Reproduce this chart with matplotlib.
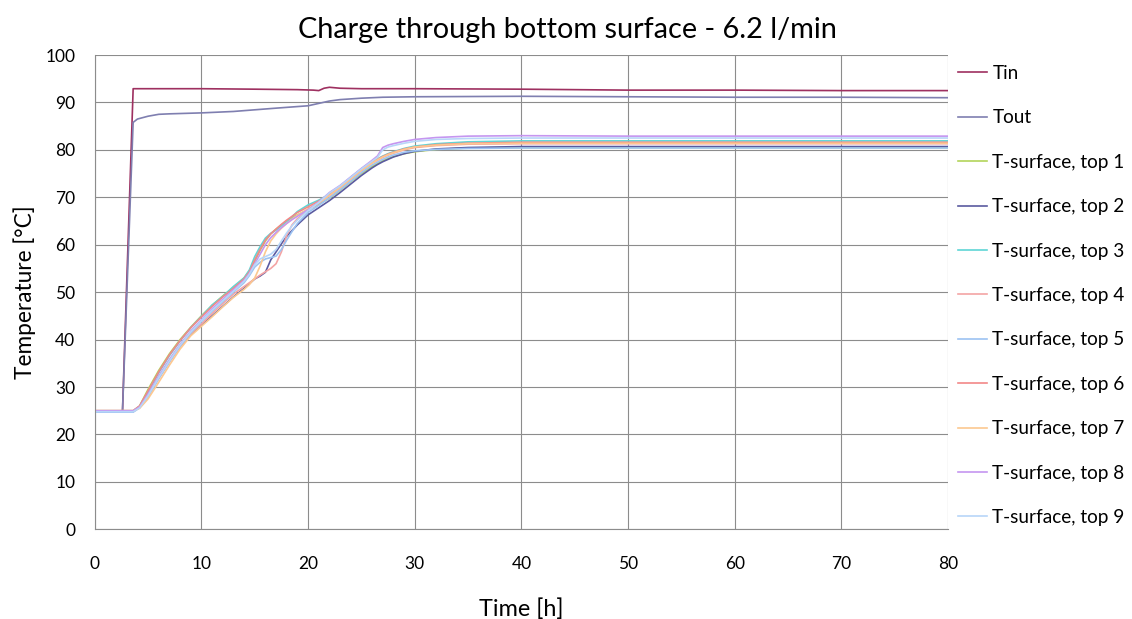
import matplotlib
matplotlib.use("Agg")
import matplotlib.pyplot as plt

plt.rcParams['font.family'] = ['Lato', 'DejaVu Sans']

# Inlet / outlet temperatures
t_in = [0, 2.6, 3.6, 5, 10, 15, 19, 20.5, 21, 21.5, 22, 23, 25, 30, 40, 50, 60, 70, 80]
T_in = [24.8, 24.8, 92.9, 92.9, 92.9, 92.8, 92.7, 92.6, 92.5, 93.0, 93.2, 93.0, 92.9,
        92.9, 92.8, 92.6, 92.6, 92.5, 92.5]

t_out = [0, 2.6, 3.6, 4, 5, 6, 7, 10, 13, 17, 20, 21, 22, 23, 25, 27, 30, 40, 50, 60, 70, 80]
T_out = [24.8, 24.8, 85.8, 86.5, 87.1, 87.5, 87.6, 87.8, 88.1, 88.8, 89.3, 89.8, 90.3,
         90.6, 90.9, 91.1, 91.2, 91.3, 91.2, 91.1, 91.1, 91.0]

# Surface sensors, shared time base [h]
t_surf = [0, 3.6, 4.2, 5, 6, 7, 8, 9, 10, 11, 12, 13, 14, 14.5, 15, 15.5, 16, 16.5, 17,
          17.5, 18, 18.5, 19, 20, 21, 22, 23, 24, 25, 26, 26.5, 27, 27.5, 28, 29, 30,
          32, 35, 40, 50, 60, 70, 80]

top1 = [25.0, 25.0, 26.0, 29.5, 33.5, 37.0, 40.0, 42.6, 45.0, 47.2, 49.2, 51.0, 53.0,
        54.5, 56.5, 58.8, 60.8, 62.3, 63.3, 64.2, 65.0, 65.7, 66.3, 67.4, 68.5, 69.8,
        71.5, 73.3, 75.0, 76.5, 77.1, 77.7, 78.2, 78.6, 79.2, 79.6, 80.1, 80.4, 80.5,
        80.5, 80.5, 80.5, 80.5]
top2 = [24.8, 24.8, 25.8, 28.3, 32.0, 35.5, 38.6, 41.0, 43.0, 45.0, 47.0, 49.0, 50.8,
        51.8, 52.8, 53.4, 54.2, 56.8, 58.5, 60.2, 61.8, 63.0, 64.2, 66.3, 67.8, 69.3,
        71.0, 72.8, 74.6, 76.2, 76.9, 77.5, 78.0, 78.5, 79.2, 79.7, 80.2, 80.5, 80.7,
        80.7, 80.7, 80.7, 80.7]
top3 = [24.9, 24.9, 25.9, 29.0, 33.0, 36.6, 39.7, 42.5, 44.9, 47.3, 49.1, 51.2, 53.0,
        54.7, 57.5, 59.6, 61.4, 62.4, 63.1, 64.0, 64.9, 65.9, 67.0, 68.4, 69.4, 70.6,
        72.3, 74.2, 76.0, 77.5, 78.1, 78.7, 79.2, 79.6, 80.3, 80.8, 81.3, 81.7, 81.9,
        81.9, 81.9, 81.9, 81.9]
top4 = [25.0, 25.0, 25.8, 28.0, 31.8, 35.3, 38.5, 41.2, 43.3, 45.5, 47.6, 49.6, 51.2,
        52.0, 52.8, 53.6, 54.3, 55.0, 56.0, 58.5, 62.0, 64.2, 65.5, 67.3, 68.8, 70.3,
        72.0, 73.8, 75.6, 77.2, 77.8, 78.4, 78.9, 79.3, 80.0, 80.5, 80.9, 81.2, 81.3,
        81.3, 81.3, 81.3, 81.3]
top5 = [24.7, 24.7, 25.6, 28.0, 31.8, 35.3, 38.6, 41.4, 43.8, 46.0, 48.0, 50.0, 52.0,
        53.5, 55.3, 56.3, 57.0, 57.3, 57.6, 59.0, 61.0, 62.8, 64.5, 66.8, 68.3, 69.9,
        71.6, 73.4, 75.2, 76.8, 77.4, 78.0, 78.5, 78.9, 79.5, 79.8, 80.1, 80.3, 80.4,
        80.4, 80.4, 80.4, 80.4]
top6 = [25.0, 25.0, 26.0, 29.2, 33.2, 36.8, 39.8, 42.5, 44.8, 47.0, 49.0, 50.8, 52.8,
        54.3, 56.8, 59.0, 61.0, 62.3, 63.3, 64.3, 65.2, 66.0, 66.8, 68.0, 69.2, 70.6,
        72.2, 74.0, 75.8, 77.4, 78.0, 78.6, 79.1, 79.5, 80.2, 80.6, 81.1, 81.4, 81.6,
        81.6, 81.6, 81.6, 81.6]
top7 = [25.0, 25.0, 25.5, 27.5, 31.0, 34.6, 38.0, 40.8, 42.8, 44.8, 46.9, 48.9, 50.6,
        51.6, 53.0, 55.5, 58.5, 60.8, 62.3, 63.5, 64.5, 65.4, 66.2, 67.6, 68.9, 70.4,
        72.1, 73.9, 75.7, 77.2, 77.9, 78.5, 79.0, 79.4, 80.1, 80.6, 81.0, 81.3, 81.4,
        81.4, 81.4, 81.4, 81.4]
top8 = [25.0, 25.0, 25.8, 28.5, 32.3, 35.8, 39.0, 41.8, 44.2, 46.5, 48.5, 50.5, 52.5,
        54.0, 56.0, 58.0, 60.0, 61.5, 62.6, 63.6, 64.5, 65.3, 66.0, 67.4, 69.0, 71.0,
        72.5, 74.3, 76.1, 77.8, 78.7, 80.5, 81.0, 81.3, 81.8, 82.2, 82.6, 82.9, 83.0,
        82.9, 82.9, 82.9, 82.9]
top9 = [24.8, 24.8, 25.6, 28.2, 32.0, 35.5, 38.8, 41.6, 44.0, 46.2, 48.2, 50.2, 52.3,
        53.8, 55.8, 57.0, 57.5, 58.0, 59.0, 60.8, 62.5, 64.0, 65.2, 67.2, 68.9, 70.9,
        72.4, 74.2, 76.0, 77.6, 78.4, 80.0, 80.6, 80.9, 81.4, 81.8, 82.2, 82.4, 82.5,
        82.5, 82.5, 82.5, 82.5]

surface = [top1, top2, top3, top4, top5, top6, top7, top8, top9]
surface_labels = [f"T-surface, top {i}" for i in range(1, 10)]

c_in, c_out = "#9e3060", "#7f7fb0"
surface_colors = ["#b3d45a", "#5a5aa0", "#5fd6d6", "#f4a4a4", "#9cc2f2",
                  "#f28888", "#fcc890", "#c596f0", "#b8d6f8"]

x_ticks = list(range(0, 81, 10))
y_ticks = list(range(0, 101, 10))

fig = plt.figure(figsize=(11.32, 6.19), dpi=100)
ax = fig.add_axes([0.0837, 0.1449, 0.7538, 0.7662])

lw = 1.2
ax.plot(t_in, T_in, color=c_in, lw=lw, label="Tin")
ax.plot(t_out, T_out, color=c_out, lw=lw, label="Tout")
for vals, lab, col in zip(surface, surface_labels, surface_colors):
    ax.plot(t_surf, vals, color=col, lw=lw, label=lab)

ax.set_xlim(0, 80)
ax.set_ylim(0, 100)
ax.set_xticks(x_ticks)
ax.set_yticks(y_ticks)
ax.tick_params(length=0, labelsize=12.5, colors="#000000")
ax.tick_params(axis="y", pad=14)
ax.tick_params(axis="x", pad=19)

ax.grid(True, color="#8c8c8c", lw=0.8)
ax.set_axisbelow(True)
for side in ("top", "right"):
    ax.spines[side].set_visible(False)
for side in ("left", "bottom"):
    ax.spines[side].set_color("#8c8c8c")
    ax.spines[side].set_linewidth(0.8)

fig.text(0.501, 0.951, "Charge through bottom surface - 6.2 l/min", fontsize=20.8,
         ha="center", va="center")
ax.set_xlabel("Time [h]", fontsize=16.8, labelpad=19)
ax.set_ylabel("Temperature [°C]", fontsize=16.3, labelpad=7)

ax.legend(loc="upper left", bbox_to_anchor=(1.005, 0.991), frameon=False,
          fontsize=13.7, handlelength=1.5, handletextpad=0.3,
          labelspacing=1.44, borderaxespad=0.0, borderpad=0.3)

fig.savefig("out.png", dpi=100, facecolor="white")
